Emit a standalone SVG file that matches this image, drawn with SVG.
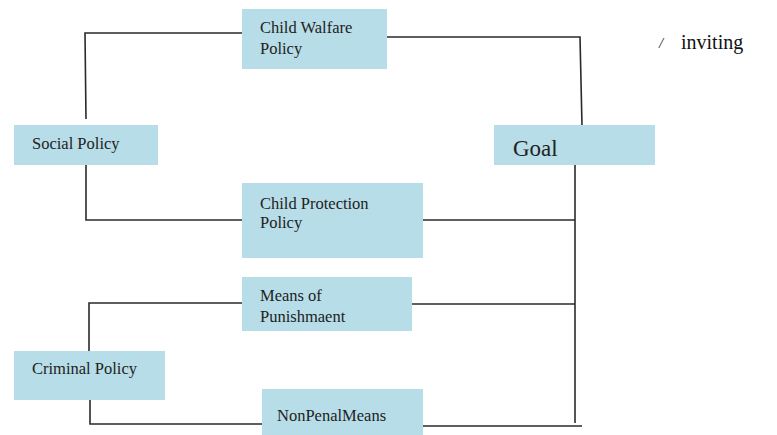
<svg xmlns="http://www.w3.org/2000/svg" width="777" height="435" viewBox="0 0 777 435">
<style>
.box{fill:#b7dde8;}
.t{font-family:"Liberation Serif","Times New Roman",serif;font-size:16.5px;fill:#222;}
.c{fill:none;stroke:#2a2a2a;stroke-width:1.6;}
</style>
<rect width="777" height="435" fill="#fff"/>
<g id="connectors">
<polyline class="c" points="86,119 85,33 242,33"/>
<polyline class="c" points="387,37 580,37 582,126"/>
<polyline class="c" points="86,165 86,220 242,220"/>
<line class="c" x1="575" y1="165" x2="575" y2="423"/>
<line class="c" x1="423" y1="220" x2="575" y2="220"/>
<polyline class="c" points="89,352 89,303 242,303"/>
<line class="c" x1="412" y1="304" x2="575" y2="304"/>
<polyline class="c" points="90,400 90,424 272,424"/>
<line class="c" x1="422" y1="426" x2="582" y2="426"/>
</g>
<g id="child-walfare">
<rect class="box" x="242" y="9" width="145" height="60"/>
<text class="t" x="260" y="33">Child Walfare</text>
<text class="t" x="260" y="54">Policy</text>
</g>
<g id="social-policy">
<rect class="box" x="14" y="125" width="144" height="40"/>
<text class="t" x="32" y="149">Social Policy</text>
</g>
<g id="goal">
<rect class="box" x="494" y="125" width="161" height="40"/>
<text class="t" x="513" y="156" style="font-size:23px">Goal</text>
</g>
<g id="child-protection">
<rect class="box" x="242" y="183" width="181" height="75"/>
<text class="t" x="260" y="209">Child Protection</text>
<text class="t" x="260" y="228">Policy</text>
</g>
<g id="means-punishment">
<rect class="box" x="242" y="277" width="170" height="54"/>
<text class="t" x="260" y="301">Means of</text>
<text class="t" x="260" y="322">Punishmaent</text>
</g>
<g id="criminal-policy">
<rect class="box" x="14" y="351" width="151" height="49"/>
<text class="t" x="32" y="374">Criminal Policy</text>
</g>
<g id="nonpenal">
<rect class="box" x="262" y="389" width="161" height="46"/>
<text class="t" x="277" y="421">NonPenalMeans</text>
</g>
<text x="659" y="48" style="font-family:'Liberation Serif',serif;font-size:15px;font-style:italic;fill:#222">/</text>
<text x="681" y="49" style="font-family:'Liberation Serif',serif;font-size:20px;fill:#111">inviting</text>
</svg>
